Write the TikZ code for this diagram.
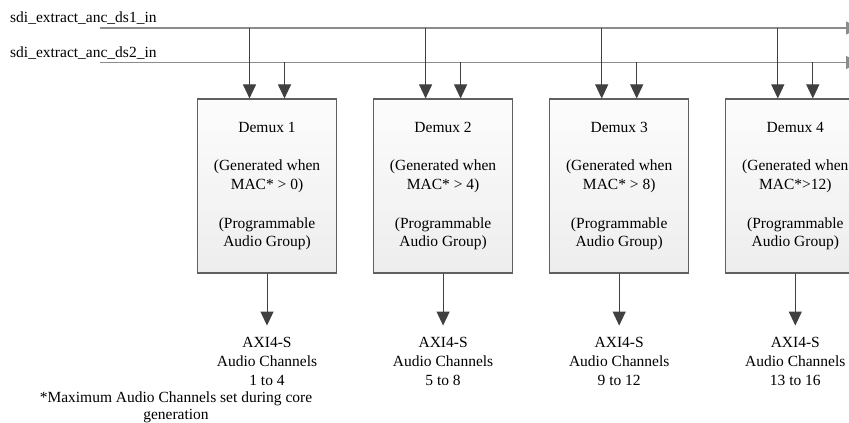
\documentclass[tikz,border=0pt]{standalone}
\usepackage{fontspec}
\setmainfont{Liberation Serif}
\usepackage{tikz}
\usetikzlibrary{arrows.meta,positioning,calc}
\definecolor{busgray}{RGB}{140,140,140}
\definecolor{arrowgray}{RGB}{64,64,64}
\definecolor{boxedge}{RGB}{96,96,96}

\begin{document}
\begin{tikzpicture}[
    x=1pt, y=1pt,
    node distance=36pt,
    demux/.style={rectangle, draw=boxedge, line width=1.1pt, top color=gray!2, bottom color=gray!14,
        minimum width=139pt, minimum height=174pt, align=center, inner sep=0pt,
        font=\fontsize{15.5}{18.7}\selectfont},
    chan/.style={align=center, inner sep=0pt, font=\fontsize{15.5}{19}\selectfont},
    sig/.style={anchor=base west, inner sep=0pt, font=\fontsize{15.5}{18}\selectfont},
    bus/.style={busgray, line width=1.4pt, -{Triangle[width=13pt,length=14pt]}},
    arr/.style={arrowgray, line width=1pt, -{Triangle[width=13pt,length=14pt]}},
]
    \useasboundingbox (0,0) rectangle (849,423);
    \clip (0,0) rectangle (849,423);

    % Demux blocks
    \node[demux] (d1) at (267,237) {
        Demux 1\\[20pt]
        (Generated when\\
        MAC* > 0)\\[20pt]
        (Programmable\\
        Audio Group)
    };
    \node[demux, right=of d1] (d2) {
        Demux 2\\[20pt]
        (Generated when\\
        MAC* > 4)\\[20pt]
        (Programmable\\
        Audio Group)
    };
    \node[demux, right=of d2] (d3) {
        Demux 3\\[20pt]
        (Generated when\\
        MAC* > 8)\\[20pt]
        (Programmable\\
        Audio Group)
    };
    \node[demux, right=of d3] (d4) {
        Demux 4\\[20pt]
        (Generated when\\
        MAC*>12)\\[20pt]
        (Programmable\\
        Audio Group)
    };

    % Outputs
    \coordinate[below=52pt of d1.south] (t1);
    \coordinate[below=52pt of d2.south] (t2);
    \coordinate[below=52pt of d3.south] (t3);
    \coordinate[below=52pt of d4.south] (t4);
    \node[chan, below=11pt of t1] (ch1) {AXI4-S\\Audio Channels\\1 to 4};
    \node[chan, below=11pt of t2] (ch2) {AXI4-S\\Audio Channels\\5 to 8};
    \node[chan, below=11pt of t3] (ch3) {AXI4-S\\Audio Channels\\9 to 12};
    \node[chan, below=11pt of t4] (ch4) {AXI4-S\\Audio Channels\\13 to 16};
    \draw[arr] (d1.south) -- (t1);
    \draw[arr] (d2.south) -- (t2);
    \draw[arr] (d3.south) -- (t3);
    \draw[arr] (d4.south) -- (t4);

    % Input streams
    \coordinate (in1) at (100,395);
    \coordinate (out1) at (860,395);
    \coordinate (in2) at (100,360.5);
    \coordinate (out2) at (860,360.5);
    \node[sig] (lbl1) at (10,400) {sdi\_extract\_anc\_ds1\_in};
    \node[sig] (lbl2) at (10,365.5) {sdi\_extract\_anc\_ds2\_in};
    \draw[bus] (in1) -- (out1);
    \draw[bus] (in2) -- (out2);

    % Taps into each demux
    \foreach \dm in {d1,d2,d3,d4} {
        \draw[arr] ([xshift=-17.5pt]\dm.north |- in1) -- ([xshift=-17.5pt]\dm.north);
        \draw[arr] ([xshift=17.5pt]\dm.north |- in2) -- ([xshift=17.5pt]\dm.north);
    }

    % Footnote
    \node[anchor=north, align=center, inner sep=0pt, font=\fontsize{15.5}{16.5}\selectfont] (note) at (176,31)
        {*Maximum Audio Channels set during core\\generation};
\end{tikzpicture}
\end{document}
